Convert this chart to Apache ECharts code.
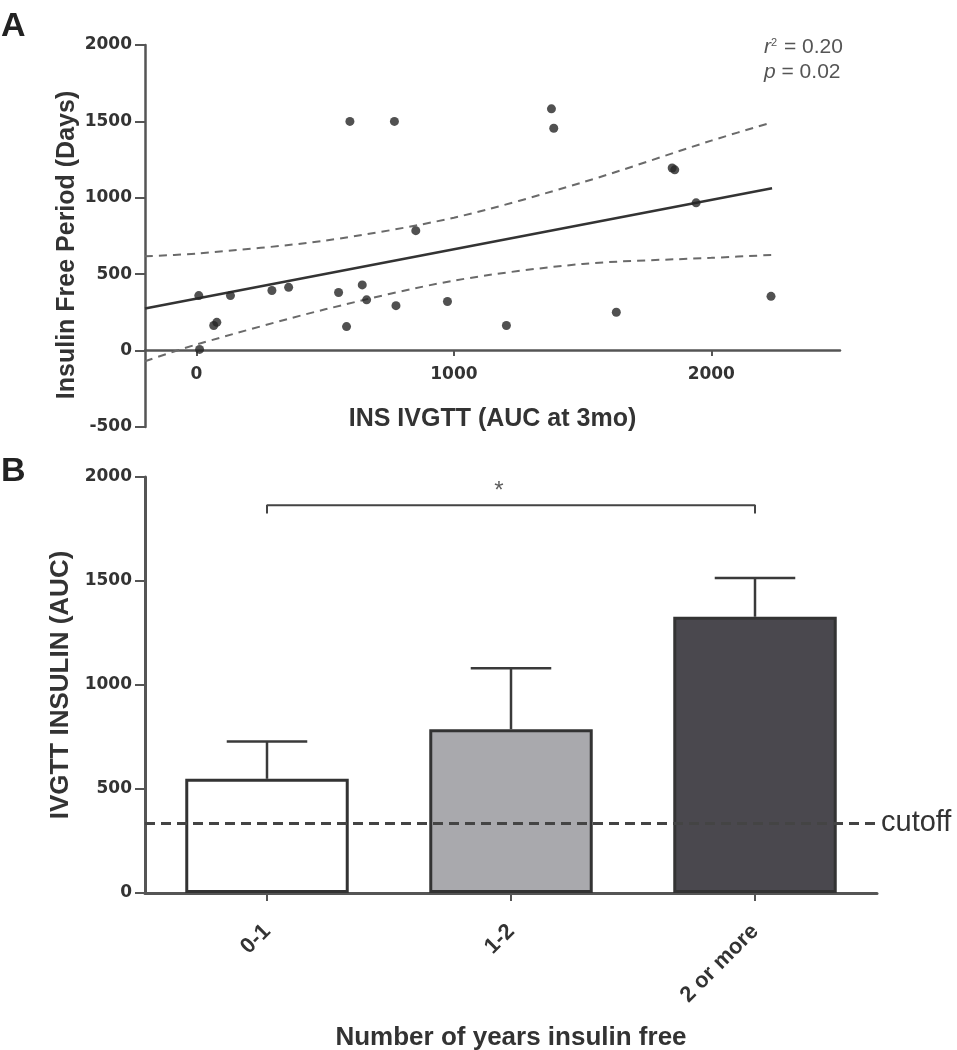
<!DOCTYPE html>
<html><head><meta charset="utf-8">
<script src="https://cdn.jsdelivr.net/npm/echarts@6/dist/echarts.min.js"></script>
<style>html,body{margin:0;padding:0;background:#fff}#c{width:957px;height:1050px}</style>
</head><body><div id="c"></div>
<script>
// ---- Panel A data ----
const scatterX = [9, 12, 67, 79, 132, 293, 358, 552, 583, 596, 644, 661, 769, 775, 852, 975, 1204, 1379, 1388, 1631, 1848, 1858, 1941, 2232];
const scatterY = [360, 8, 164, 185, 360, 393, 414, 380, 157, 1500, 430, 332, 1500, 294, 785, 321, 164, 1582, 1455, 251, 1195, 1183, 967, 355];
const fitX = [-200, 2236];
const fitY = [275, 1062];
const ciX = [-200, 0, 500, 1000, 1500, 2000, 2236];
const ciUpper = [618, 635, 720, 870, 1101, 1374, 1494];
const ciLower = [-70, 40, 270, 458, 567, 607, 626];
const xTicksA = [0, 1000, 2000];
const statsText = ['0.20', '0.02'];
// ---- Panel B data ----
const categories = ['0-1', '1-2', '2 or more'];
const means = [549, 787, 1328];
const sems = [179, 293, 187];
const cutoff = 336;
const sigLevel = 1864;
const sigDrop = 40;
const sigPair = [0, 2];
const barColors = ['#ffffff', '#a9a9ad', '#4a484e'];

const zip = (a, b) => a.map((v, i) => [v, b[i]]);
const axisCol = '#555';
const txtCol = '#333';
const plain = v => String(v);
const tickFont = {fontFamily: 'DejaVu Sans', fontWeight: 'bold', fontSize: 17, color: txtCol};
const titleFont = {fontFamily: 'Liberation Sans', fontWeight: 'bold', fontSize: 25, color: txtCol};

const chart = echarts.init(document.getElementById('c'));
chart.setOption({
  animation: false,
  backgroundColor: '#fff',
  grid: [
    {left: 145, top: 45, width: 695, height: 382, containLabel: false, outerBoundsMode: 'none'},
    {left: 145, top: 477, width: 732, height: 416, containLabel: false, outerBoundsMode: 'none'},
    {left: 145, top: 45, width: 695, height: 305, containLabel: false, outerBoundsMode: 'none'}
  ],
  xAxis: [
    {type: 'value', gridIndex: 0, min: -200, max: 2500, show: false},
    {type: 'category', gridIndex: 1, data: categories, boundaryGap: true,
     name: 'Number of years insulin free', nameLocation: 'middle', nameGap: 132,
     nameTextStyle: Object.assign({}, titleFont, {fontSize: 26}),
     axisLine: {show: true, lineStyle: {color: axisCol, width: 3}},
     axisTick: {show: true, alignWithLabel: true, length: 8, lineStyle: {color: axisCol, width: 2}},
     axisLabel: {rotate: 45, margin: 35, fontFamily: 'Liberation Sans', fontWeight: 'bold', fontSize: 22, color: txtCol},
     splitLine: {show: false}},
    {type: 'value', gridIndex: 2, min: -200, max: 2500, position: 'bottom',
     name: 'INS IVGTT (AUC at 3mo)', nameLocation: 'middle', nameGap: 57, nameTextStyle: titleFont,
     axisLine: {show: true, onZero: false, lineStyle: {color: axisCol, width: 2.5}},
     axisTick: {show: true, length: 6, customValues: xTicksA, lineStyle: {color: axisCol, width: 2}},
     axisLabel: Object.assign({margin: 16, customValues: xTicksA, formatter: plain}, tickFont),
     splitLine: {show: false}}
  ],
  yAxis: [
    {type: 'value', gridIndex: 0, min: -500, max: 2000, interval: 500,
     name: 'Insulin Free Period (Days)', nameLocation: 'middle', nameGap: 65, nameMoveOverlap: false,
     nameTextStyle: Object.assign({}, titleFont, {padding: [0, 18, 0, 0]}),
     axisLine: {show: true, onZero: false, lineStyle: {color: axisCol, width: 2.5}},
     axisTick: {show: true, length: 10, lineStyle: {color: axisCol, width: 2}},
     axisLabel: Object.assign({margin: 13, formatter: plain}, tickFont),
     splitLine: {show: false}},
    {type: 'value', gridIndex: 1, min: 0, max: 2000, interval: 500,
     name: 'IVGTT INSULIN (AUC)', nameLocation: 'middle', nameGap: 60,
     nameTextStyle: Object.assign({}, titleFont, {fontSize: 26}),
     axisLine: {show: true, lineStyle: {color: axisCol, width: 3}},
     axisTick: {show: true, length: 10, lineStyle: {color: axisCol, width: 2}},
     axisLabel: Object.assign({margin: 13, formatter: plain}, tickFont),
     splitLine: {show: false}},
    {type: 'value', gridIndex: 2, min: 0, max: 2000, show: false}
  ],
  series: [
    {type: 'line', xAxisIndex: 0, yAxisIndex: 0, data: zip(ciX, ciUpper), smooth: 0.3, symbol: 'none',
     lineStyle: {color: '#6a6a6a', width: 2, type: [8, 6]}},
    {type: 'line', xAxisIndex: 0, yAxisIndex: 0, data: zip(ciX, ciLower), smooth: 0.3, symbol: 'none',
     lineStyle: {color: '#6a6a6a', width: 2, type: [8, 6]}},
    {type: 'line', xAxisIndex: 0, yAxisIndex: 0, data: zip(fitX, fitY), symbol: 'none',
     lineStyle: {color: '#333', width: 2.5}},
    {type: 'scatter', xAxisIndex: 0, yAxisIndex: 0, data: zip(scatterX, scatterY), symbolSize: 9,
     itemStyle: {color: '#262626'}, z: 5},
    {type: 'bar', xAxisIndex: 1, yAxisIndex: 1, barWidth: '67%',
     data: means.map((v, i) => ({value: v, itemStyle: {color: barColors[i]}})),
     itemStyle: {borderColor: '#333', borderWidth: 3},
     markLine: {symbol: 'none', silent: true, data: [{yAxis: cutoff}],
       lineStyle: {color: '#444', width: 3, type: [10, 6]},
       label: {show: true, position: 'end', formatter: 'cutoff', distance: 4,
               fontFamily: 'Liberation Sans', fontSize: 29, color: txtCol}}},
    {type: 'custom', xAxisIndex: 1, yAxisIndex: 1, z: 4,
     data: means.map((m, i) => [i, m, sems[i]]),
     renderItem: function (params, api) {
       const x = api.value(0), m = api.value(1), s = api.value(2);
       const p0 = api.coord([x, m]);
       const p1 = api.coord([x, m + s]);
       const cw = api.size([1, 0])[0] * 0.33;
       const st = {stroke: '#3a3a3a', lineWidth: 2.5};
       return {type: 'group', children: [
         {type: 'line', shape: {x1: p0[0], y1: p0[1], x2: p1[0], y2: p1[1]}, style: st},
         {type: 'line', shape: {x1: p1[0] - cw / 2, y1: p1[1], x2: p1[0] + cw / 2, y2: p1[1]}, style: st}
       ]};
     }},
    {type: 'line', xAxisIndex: 1, yAxisIndex: 1, symbol: 'none',
     data: [[sigPair[0], sigLevel - sigDrop], [sigPair[0], sigLevel], [sigPair[1], sigLevel], [sigPair[1], sigLevel - sigDrop]],
     lineStyle: {color: '#444', width: 2}},
    {type: 'scatter', xAxisIndex: 1, yAxisIndex: 1, symbolSize: 1, itemStyle: {color: 'rgba(0,0,0,0)'},
     data: [[1, sigLevel]],
     label: {show: true, formatter: '*', position: 'top', offset: [-12, 4], fontSize: 24,
             fontFamily: 'Liberation Sans', color: '#333'}}
  ],
  graphic: [
    {type: 'text', left: 1, top: 10, style: {text: 'A', font: 'bold 34px "Liberation Sans"', fill: '#222'}},
    {type: 'text', left: 1, top: 455, style: {text: 'B', font: 'bold 34px "Liberation Sans"', fill: '#222'}},
    {type: 'text', left: 764, top: 37, style: {
      text: '{i|r}{s|2} = ' + statsText[0],
      font: '21px "Liberation Sans"', fill: '#555',
      rich: {i: {fontStyle: 'italic', fontSize: 21, fontFamily: 'Liberation Sans', fill: '#555'},
             s: {fontSize: 11, verticalAlign: 'top', fontFamily: 'Liberation Sans', fill: '#555', padding: [0, 1, 9, 0]}}}},
    {type: 'text', left: 764, top: 62, style: {
      text: '{i|p} = ' + statsText[1],
      font: '21px "Liberation Sans"', fill: '#555',
      rich: {i: {fontStyle: 'italic', fontSize: 21, fontFamily: 'Liberation Sans', fill: '#555'}}}}
  ]
});
</script>
</body></html>
